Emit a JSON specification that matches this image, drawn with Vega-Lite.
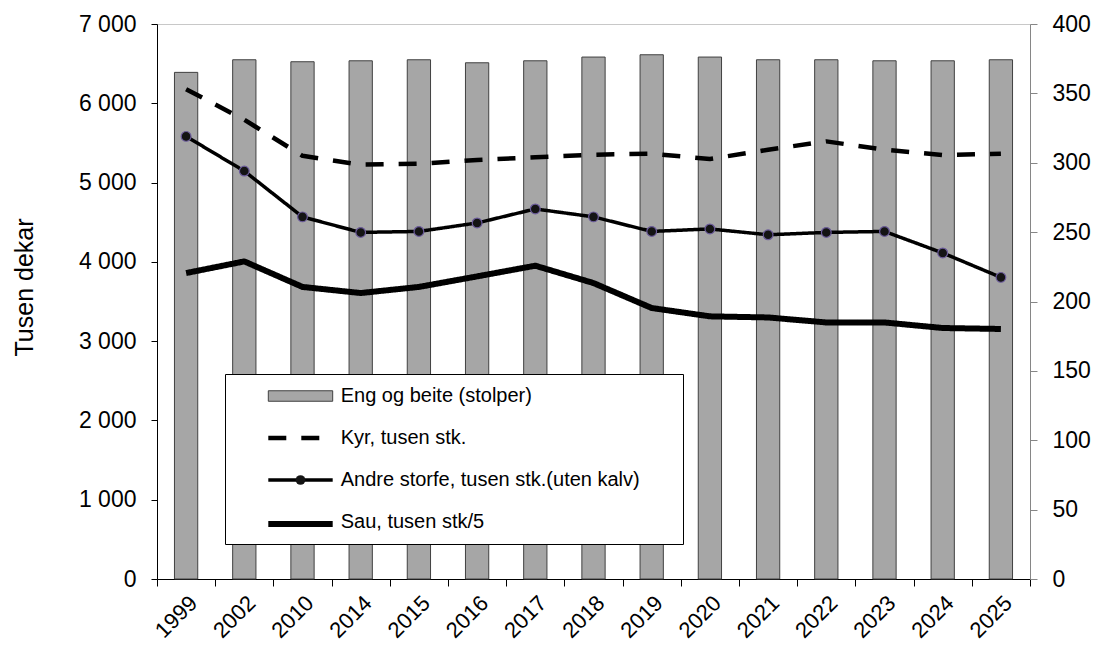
{
  "$schema": "https://vega.github.io/schema/vega-lite/v6.json",
  "width": 873,
  "height": 555,
  "autosize": {"type": "none"},
  "padding": {"left": 157, "top": 24, "right": 67, "bottom": 68},
  "background": "white",
  "config": {
    "font": "Liberation Sans",
    "view": {"stroke": "#c8c8c8"},
    "axis": {"grid": false, "labelColor": "black", "titleColor": "black", "titleFontWeight": "normal"}
  },
  "datasets": {
    "bars": [
      {"year": "1999", "series": "Eng og beite (stolper)", "value": 6390},
      {"year": "2002", "series": "Eng og beite (stolper)", "value": 6549},
      {"year": "2010", "series": "Eng og beite (stolper)", "value": 6524},
      {"year": "2014", "series": "Eng og beite (stolper)", "value": 6536},
      {"year": "2015", "series": "Eng og beite (stolper)", "value": 6549},
      {"year": "2016", "series": "Eng og beite (stolper)", "value": 6511},
      {"year": "2017", "series": "Eng og beite (stolper)", "value": 6536},
      {"year": "2018", "series": "Eng og beite (stolper)", "value": 6583},
      {"year": "2019", "series": "Eng og beite (stolper)", "value": 6612},
      {"year": "2020", "series": "Eng og beite (stolper)", "value": 6583},
      {"year": "2021", "series": "Eng og beite (stolper)", "value": 6549},
      {"year": "2022", "series": "Eng og beite (stolper)", "value": 6549},
      {"year": "2023", "series": "Eng og beite (stolper)", "value": 6536},
      {"year": "2024", "series": "Eng og beite (stolper)", "value": 6536},
      {"year": "2025", "series": "Eng og beite (stolper)", "value": 6549}
    ],
    "lines": [
      {"year": "1999", "series": "Kyr, tusen stk.", "value": 353},
      {"year": "2002", "series": "Kyr, tusen stk.", "value": 331},
      {"year": "2010", "series": "Kyr, tusen stk.", "value": 305},
      {"year": "2014", "series": "Kyr, tusen stk.", "value": 298.6},
      {"year": "2015", "series": "Kyr, tusen stk.", "value": 299.3},
      {"year": "2016", "series": "Kyr, tusen stk.", "value": 302},
      {"year": "2017", "series": "Kyr, tusen stk.", "value": 304},
      {"year": "2018", "series": "Kyr, tusen stk.", "value": 305.8},
      {"year": "2019", "series": "Kyr, tusen stk.", "value": 306.5},
      {"year": "2020", "series": "Kyr, tusen stk.", "value": 302.7},
      {"year": "2021", "series": "Kyr, tusen stk.", "value": 309.4},
      {"year": "2022", "series": "Kyr, tusen stk.", "value": 315.4},
      {"year": "2023", "series": "Kyr, tusen stk.", "value": 309.4},
      {"year": "2024", "series": "Kyr, tusen stk.", "value": 305.6},
      {"year": "2025", "series": "Kyr, tusen stk.", "value": 306.5},
      {"year": "1999", "series": "Andre storfe, tusen stk.(uten kalv)", "value": 319},
      {"year": "2002", "series": "Andre storfe, tusen stk.(uten kalv)", "value": 294},
      {"year": "2010", "series": "Andre storfe, tusen stk.(uten kalv)", "value": 261},
      {"year": "2014", "series": "Andre storfe, tusen stk.(uten kalv)", "value": 249.8},
      {"year": "2015", "series": "Andre storfe, tusen stk.(uten kalv)", "value": 250.5},
      {"year": "2016", "series": "Andre storfe, tusen stk.(uten kalv)", "value": 256.6},
      {"year": "2017", "series": "Andre storfe, tusen stk.(uten kalv)", "value": 266.7},
      {"year": "2018", "series": "Andre storfe, tusen stk.(uten kalv)", "value": 261},
      {"year": "2019", "series": "Andre storfe, tusen stk.(uten kalv)", "value": 250.5},
      {"year": "2020", "series": "Andre storfe, tusen stk.(uten kalv)", "value": 252.3},
      {"year": "2021", "series": "Andre storfe, tusen stk.(uten kalv)", "value": 248.1},
      {"year": "2022", "series": "Andre storfe, tusen stk.(uten kalv)", "value": 249.8},
      {"year": "2023", "series": "Andre storfe, tusen stk.(uten kalv)", "value": 250.5},
      {"year": "2024", "series": "Andre storfe, tusen stk.(uten kalv)", "value": 235},
      {"year": "2025", "series": "Andre storfe, tusen stk.(uten kalv)", "value": 217.4},
      {"year": "1999", "series": "Sau, tusen stk/5", "value": 220.5},
      {"year": "2002", "series": "Sau, tusen stk/5", "value": 228.9},
      {"year": "2010", "series": "Sau, tusen stk/5", "value": 210.5},
      {"year": "2014", "series": "Sau, tusen stk/5", "value": 206.1},
      {"year": "2015", "series": "Sau, tusen stk/5", "value": 210.5},
      {"year": "2016", "series": "Sau, tusen stk/5", "value": 218.1},
      {"year": "2017", "series": "Sau, tusen stk/5", "value": 225.8},
      {"year": "2018", "series": "Sau, tusen stk/5", "value": 213.3},
      {"year": "2019", "series": "Sau, tusen stk/5", "value": 195.3},
      {"year": "2020", "series": "Sau, tusen stk/5", "value": 189.3},
      {"year": "2021", "series": "Sau, tusen stk/5", "value": 188.5},
      {"year": "2022", "series": "Sau, tusen stk/5", "value": 184.9},
      {"year": "2023", "series": "Sau, tusen stk/5", "value": 184.9},
      {"year": "2024", "series": "Sau, tusen stk/5", "value": 180.9},
      {"year": "2025", "series": "Sau, tusen stk/5", "value": 180.2}
    ]
  },
  "encoding": {
    "x": {
      "field": "year",
      "type": "nominal",
      "sort": null,
      "scale": {"paddingInner": 0, "paddingOuter": 0},
      "axis": {
        "title": null,
        "labelAngle": -45,
        "labelFontSize": 22,
        "labelPadding": 6,
        "tickBand": "extent",
        "tickSize": 7,
        "tickColor": "black",
        "domainColor": "black"
      }
    }
  },
  "layer": [
    {
      "data": {"name": "bars"},
      "mark": {"type": "bar", "width": {"band": 0.4}, "strokeWidth": 1},
      "encoding": {
        "y": {
          "field": "value",
          "type": "quantitative",
          "scale": {"domain": [0, 7000], "nice": false},
          "axis": {
            "orient": "left",
            "values": [0, 1000, 2000, 3000, 4000, 5000, 6000, 7000],
            "labelExpr": "replace(format(datum.value, ','), ',', ' ')",
            "labelFontSize": 23,
            "labelPadding": 15,
            "tickSize": 6,
            "tickColor": "black",
            "domainColor": "black",
            "title": "Tusen dekar",
            "titleFontSize": 25,
            "titleAngle": -90,
            "titleX": -125,
            "titleY": 263,
            "titleAlign": "center",
            "titleBaseline": "alphabetic"
          }
        },
        "fill": {
          "field": "series",
          "type": "nominal",
          "scale": {
            "domain": ["Eng og beite (stolper)", "Kyr, tusen stk.", "Andre storfe, tusen stk.(uten kalv)", "Sau, tusen stk/5"],
            "range": ["#a6a6a6", "transparent", "transparent", "transparent"]
          },
          "legend": {
            "title": "MM", "titleOrient": "right", "titleOpacity": 0, "titleFontSize": 10, "titlePadding": 14,
            "orient": "none", "legendX": 68, "legendY": 350, "padding": 12,
            "fillColor": "white", "strokeColor": "black",
            "symbolType": "M-4.6,-0.75H4.6V0.75H-4.6Z", "symbolSize": 196, "symbolStrokeWidth": 1,
            "symbolOffset": 53.5, "labelOffset": 30.2, "labelFontSize": 20, "labelLimit": 700,
            "rowPadding": 22
          }
        },
        "stroke": {
          "field": "series",
          "type": "nominal",
          "scale": {
            "domain": ["Eng og beite (stolper)", "Kyr, tusen stk.", "Andre storfe, tusen stk.(uten kalv)", "Sau, tusen stk/5"],
            "range": ["#404040", "transparent", "transparent", "transparent"]
          },
          "legend": {
            "title": "MM", "titleOrient": "right", "titleOpacity": 0, "titleFontSize": 10, "titlePadding": 14,
            "orient": "none", "legendX": 68, "legendY": 350, "padding": 12,
            "fillColor": "white", "strokeColor": "black",
            "symbolType": "M-4.6,-0.75H4.6V0.75H-4.6Z", "symbolSize": 196, "symbolStrokeWidth": 1,
            "symbolOffset": 53.5, "labelOffset": 30.2, "labelFontSize": 20, "labelLimit": 700,
            "rowPadding": 22
          }
        }
      }
    },
    {
      "data": {"name": "lines"},
      "layer": [
        {
          "mark": {"type": "line", "color": "black", "strokeCap": "butt", "strokeJoin": "round"},
          "encoding": {
            "y": {
              "field": "value",
              "type": "quantitative",
              "scale": {"domain": [0, 400], "nice": false},
              "axis": {
                "orient": "right",
                "values": [0, 50, 100, 150, 200, 250, 300, 350, 400],
                "labelFontSize": 23,
                "labelPadding": 15,
                "tickSize": 7,
                "tickColor": "#868686",
                "domainColor": "#868686",
                "title": null
              }
            },
            "strokeDash": {
              "field": "series",
              "type": "nominal",
              "scale": {
                "domain": ["Kyr, tusen stk.", "Andre storfe, tusen stk.(uten kalv)", "Sau, tusen stk/5"],
                "range": [[18, 15], [1, 0], [1, 0]]
              },
              "legend": {
                "title": null, "orient": "none", "legendX": 68, "legendY": 392, "padding": 12,
                "symbolType": "M-4.6,0H4.6", "symbolSize": 196, "symbolStrokeColor": "black",
                "symbolOffset": 53.5, "labelOffset": 30.2, "labelFontSize": 20, "labelLimit": 700,
                "rowPadding": 22, "labelOpacity": 0
              }
            },
            "strokeWidth": {
              "field": "series",
              "type": "nominal",
              "scale": {
                "type": "ordinal",
                "domain": ["Kyr, tusen stk.", "Andre storfe, tusen stk.(uten kalv)", "Sau, tusen stk/5"],
                "range": [4.5, 3.5, 6]
              },
              "legend": {
                "title": null, "orient": "none", "legendX": 68, "legendY": 392, "padding": 12,
                "symbolType": "M-4.6,0H4.6", "symbolSize": 196, "symbolStrokeColor": "black",
                "symbolOffset": 53.5, "labelOffset": 30.2, "labelFontSize": 20, "labelLimit": 700,
                "rowPadding": 22, "labelOpacity": 0
              }
            }
          }
        },
        {
          "transform": [{"filter": "datum.series === 'Andre storfe, tusen stk.(uten kalv)'"}],
          "mark": {"type": "point", "filled": true, "size": 95, "fill": "#141414", "stroke": "#6b5b9a", "strokeWidth": 1.2, "opacity": 1},
          "encoding": {
            "y": {"field": "value", "type": "quantitative"},
            "shape": {
              "field": "series",
              "type": "nominal",
              "scale": {"domain": ["Andre storfe, tusen stk.(uten kalv)"], "range": ["circle"]},
              "legend": {
                "title": null, "orient": "none", "legendX": 68, "legendY": 434, "padding": 12,
                "symbolSize": 95, "symbolFillColor": "#141414", "symbolStrokeColor": "#6b5b9a", "symbolStrokeWidth": 1.2,
                "symbolOffset": 53.5, "labelOffset": 30.2, "labelFontSize": 20, "labelLimit": 700,
                "labelOpacity": 0
              }
            }
          }
        }
      ]
    }
  ],
  "resolve": {"scale": {"y": "independent"}}
}
